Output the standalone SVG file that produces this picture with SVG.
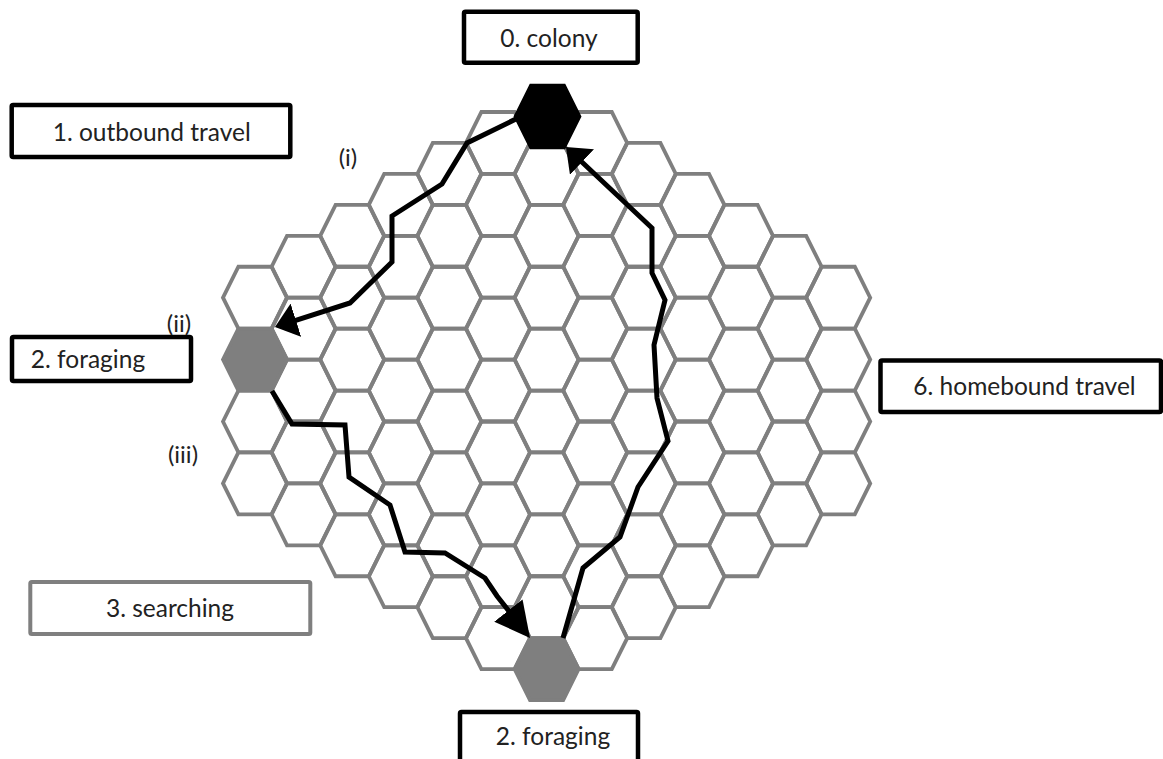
<svg xmlns="http://www.w3.org/2000/svg" xmlns:xlink="http://www.w3.org/1999/xlink" width="1163" height="759" viewBox="0 0 1163 759">
<style>
.cell{fill:none;stroke:#7f7f7f;stroke-width:3.8;stroke-linejoin:miter}
.box{fill:#fff;stroke:#000;stroke-width:4.5}
.gbox{fill:#fff;stroke:#7f7f7f;stroke-width:4}
.lbl{font-family:Lato,"Open Sans","Liberation Sans",sans-serif;font-size:24.5px;fill:#222;text-anchor:middle}
.rn{font-family:Lato,"Open Sans","Liberation Sans",sans-serif;font-size:24px;fill:#222;text-anchor:middle}
.path{fill:none;stroke:#000;stroke-width:5;stroke-linejoin:miter}
</style>
<defs>
<polygon id="hx" points="-32,0 -16.6,-30.95 16.6,-30.95 32,0 16.6,30.95 -16.6,30.95"/>
<marker id="ah" markerUnits="userSpaceOnUse" viewBox="0 0 22 35" refX="10" refY="17.5" markerWidth="22" markerHeight="35" orient="auto">
<path d="M0,0 L22,17.5 L0,35 Z" fill="#000"/>
</marker>
<marker id="ah2" markerUnits="userSpaceOnUse" viewBox="0 0 35 36" refX="23" refY="18" markerWidth="35" markerHeight="36" orient="auto">
<path d="M0,0 L35,18 L0,36 Z" fill="#000"/>
</marker>
</defs>
<rect width="1163" height="759" fill="#fff"/>
<g id="grid" class="cell">
<use href="#hx" x="255" y="297.7"/><use href="#hx" x="255" y="421.5"/><use href="#hx" x="255" y="483.4"/>
<use href="#hx" x="303.6" y="266.75"/><use href="#hx" x="303.6" y="328.65"/><use href="#hx" x="303.6" y="390.55"/><use href="#hx" x="303.6" y="452.45"/><use href="#hx" x="303.6" y="514.35"/>
<use href="#hx" x="352.2" y="235.8"/><use href="#hx" x="352.2" y="297.7"/><use href="#hx" x="352.2" y="359.6"/><use href="#hx" x="352.2" y="421.5"/><use href="#hx" x="352.2" y="483.4"/><use href="#hx" x="352.2" y="545.3"/>
<use href="#hx" x="400.8" y="204.85"/><use href="#hx" x="400.8" y="266.75"/><use href="#hx" x="400.8" y="328.65"/><use href="#hx" x="400.8" y="390.55"/><use href="#hx" x="400.8" y="452.45"/><use href="#hx" x="400.8" y="514.35"/><use href="#hx" x="400.8" y="576.25"/>
<use href="#hx" x="449.4" y="173.9"/><use href="#hx" x="449.4" y="235.8"/><use href="#hx" x="449.4" y="297.7"/><use href="#hx" x="449.4" y="359.6"/><use href="#hx" x="449.4" y="421.5"/><use href="#hx" x="449.4" y="483.4"/><use href="#hx" x="449.4" y="545.3"/><use href="#hx" x="449.4" y="607.2"/>
<use href="#hx" x="498" y="142.95"/><use href="#hx" x="498" y="204.85"/><use href="#hx" x="498" y="266.75"/><use href="#hx" x="498" y="328.65"/><use href="#hx" x="498" y="390.55"/><use href="#hx" x="498" y="452.45"/><use href="#hx" x="498" y="514.35"/><use href="#hx" x="498" y="576.25"/><use href="#hx" x="498" y="638.15"/>
<use href="#hx" x="546.6" y="173.9"/><use href="#hx" x="546.6" y="235.8"/><use href="#hx" x="546.6" y="297.7"/><use href="#hx" x="546.6" y="359.6"/><use href="#hx" x="546.6" y="421.5"/><use href="#hx" x="546.6" y="483.4"/><use href="#hx" x="546.6" y="545.3"/><use href="#hx" x="546.6" y="607.2"/>
<use href="#hx" x="595.2" y="142.95"/><use href="#hx" x="595.2" y="204.85"/><use href="#hx" x="595.2" y="266.75"/><use href="#hx" x="595.2" y="328.65"/><use href="#hx" x="595.2" y="390.55"/><use href="#hx" x="595.2" y="452.45"/><use href="#hx" x="595.2" y="514.35"/><use href="#hx" x="595.2" y="576.25"/><use href="#hx" x="595.2" y="638.15"/>
<use href="#hx" x="643.8" y="173.9"/><use href="#hx" x="643.8" y="235.8"/><use href="#hx" x="643.8" y="297.7"/><use href="#hx" x="643.8" y="359.6"/><use href="#hx" x="643.8" y="421.5"/><use href="#hx" x="643.8" y="483.4"/><use href="#hx" x="643.8" y="545.3"/><use href="#hx" x="643.8" y="607.2"/>
<use href="#hx" x="692.4" y="204.85"/><use href="#hx" x="692.4" y="266.75"/><use href="#hx" x="692.4" y="328.65"/><use href="#hx" x="692.4" y="390.55"/><use href="#hx" x="692.4" y="452.45"/><use href="#hx" x="692.4" y="514.35"/><use href="#hx" x="692.4" y="576.25"/>
<use href="#hx" x="741" y="235.8"/><use href="#hx" x="741" y="297.7"/><use href="#hx" x="741" y="359.6"/><use href="#hx" x="741" y="421.5"/><use href="#hx" x="741" y="483.4"/><use href="#hx" x="741" y="545.3"/>
<use href="#hx" x="789.6" y="266.75"/><use href="#hx" x="789.6" y="328.65"/><use href="#hx" x="789.6" y="390.55"/><use href="#hx" x="789.6" y="452.45"/><use href="#hx" x="789.6" y="514.35"/>
<use href="#hx" x="838.2" y="297.7"/><use href="#hx" x="838.2" y="359.6"/><use href="#hx" x="838.2" y="421.5"/><use href="#hx" x="838.2" y="483.4"/>
</g>
<g id="colony-cell">
<use href="#hx" x="547.5" y="116.5" fill="#000" stroke="#000" stroke-width="3.6"/>
</g>
<g id="forage-cell-left">
<use href="#hx" x="255" y="359.6" fill="#7f7f7f" stroke="#7f7f7f" stroke-width="3.8"/>
</g>
<g id="forage-cell-bottom">
<use href="#hx" x="546.6" y="669.1" fill="#7f7f7f" stroke="#7f7f7f" stroke-width="3.8"/>
</g>
<g id="connectors">
<polyline class="path" points="518,118 467,143 442,184 392,216 392,262 350,303 286.4,323.3" marker-end="url(#ah)"/>
<polyline class="path" points="272,391 292,424 345,425 349,477 390,505 405,552 445,553 485,578 497,596 522.6,628.6" marker-end="url(#ah2)"/>
<polyline class="path" points="563,638 583,568 620,537 638,487 668,441 657,398 654,345 665,300 652,273 652,228 574.7,155.2" marker-end="url(#ah)"/>
</g>
<g id="box-colony"><rect class="box" x="464" y="11.7" width="173.7" height="51" rx="1.5"/><text class="lbl" x="549" y="47">0. colony</text></g>
<g id="box-outbound"><rect class="box" x="11.7" y="105" width="278.6" height="52" rx="1.5"/><text class="lbl" x="151.7" y="141">1. outbound travel</text></g>
<g id="box-forage-left"><rect class="box" x="12" y="337" width="179" height="44" rx="1.5"/><text class="lbl" x="88" y="368">2. foraging</text></g>
<g id="box-searching"><rect class="gbox" x="30.3" y="582" width="280" height="52" rx="1.5"/><text class="lbl" x="170" y="617">3. searching</text></g>
<g id="box-homebound"><rect class="box" x="880.5" y="360.5" width="280.5" height="51.5" rx="1.5"/><text class="lbl" x="1024.5" y="395">6. homebound travel</text></g>
<g id="box-forage-bottom"><rect class="box" x="460" y="712" width="178" height="52" rx="1.5"/><text class="lbl" x="553" y="745">2. foraging</text></g>
<g id="labels">
<text class="rn" x="348" y="166">(i)</text>
<text class="rn" x="179" y="332">(ii)</text>
<text class="rn" x="183" y="463">(iii)</text>
</g>
</svg>
